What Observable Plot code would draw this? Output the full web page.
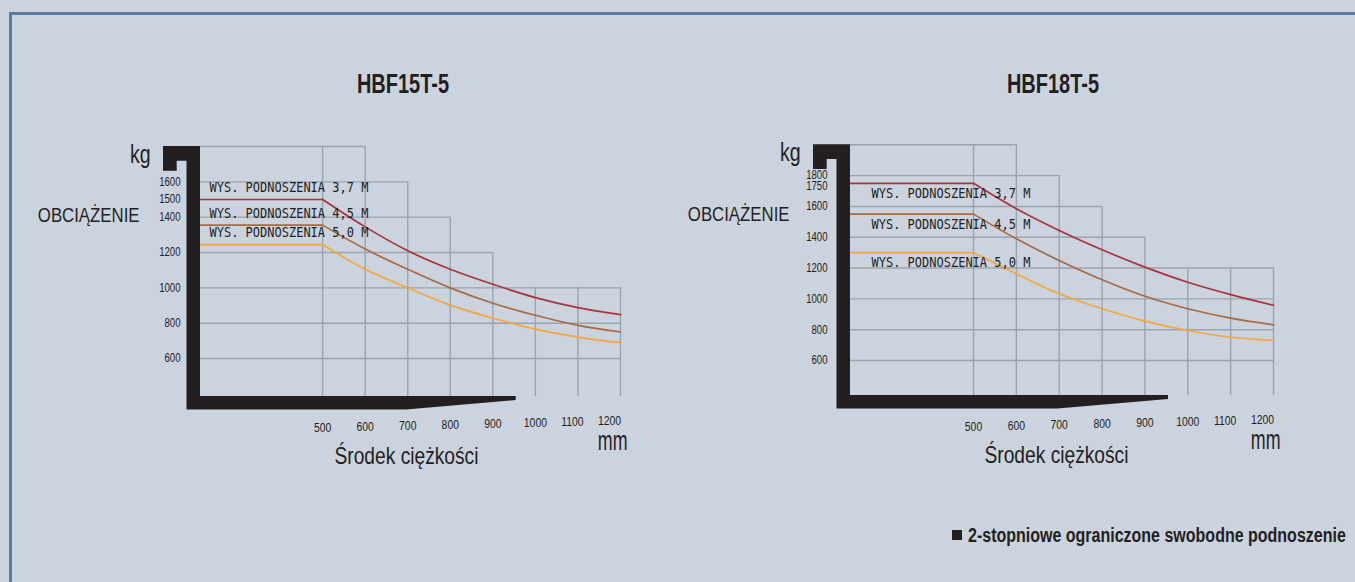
<!DOCTYPE html>
<html>
<head>
<meta charset="utf-8">
<script src="https://cdn.jsdelivr.net/npm/d3@7"></script>
<script src="https://cdn.jsdelivr.net/npm/@observablehq/plot@0.6"></script>
<style>
html, body { margin: 0; padding: 0; }
body {
  width: 1355px; height: 582px; position: relative; overflow: hidden;
  background: #cbd3de; color: #231f20;
  font-family: 'Liberation Sans', Arial, sans-serif;
}
#border { position: absolute; left: 9px; top: 12px; width: 1400px; height: 620px;
  border-top: 3px solid #5b7b9b; border-left: 3px solid #5b7b9b; }
.title { position: absolute; top: 68px; width: 300px; text-align: center;
  font-weight: bold; font-size: 27px; line-height: 32px; transform: scaleX(0.74); transform-origin: 50% 50%; }
.chart { position: absolute; top: 100px; }
#sq { position: absolute; left: 952px; top: 530px; width: 10px; height: 10px; background: #231f20; }
#note { position: absolute; left: 968px; top: 523px; font-weight: bold; font-size: 20px;
  line-height: 24px; white-space: nowrap; transform: scaleX(0.8); transform-origin: 0 50%; }
</style>
</head>
<body>
<div id="border"></div>
<div class="title" id="t1"></div>
<div class="title" id="t2"></div>
<div class="chart" id="c1" style="left:0px"></div>
<div class="chart" id="c2" style="left:650px"></div>
<div id="sq"></div>
<div id="note"></div>
<script>
// ---------- data ----------
const titles = ["HBF15T-5", "HBF18T-5"];
const note = "2-stopniowe ograniczone swobodne podnoszenie";
const yLabel = "OBCIĄŻENIE";
const yUnit = "kg";
const xLabel = "Środek ciężkości";
const xUnit = "mm";
const series = ["WYS. PODNOSZENIA 3,7 M", "WYS. PODNOSZENIA 4,5 M", "WYS. PODNOSZENIA 5,0 M"];
const colors = ["#a8343c", "#a86a40", "#f6a73a"];
const distances = [500, 600, 700, 800, 900, 1000, 1100, 1200];
const xTicks = [500, 600, 700, 800, 900, 1000, 1100, 1200];

// HBF15T-5
const hbf15_h37 = [1500, 1345, 1210, 1105, 1020, 945, 888, 848];
const hbf15_h45 = [1355, 1220, 1105, 1000, 913, 845, 788, 750];
const hbf15_h50 = [1245, 1105, 1000, 902, 828, 766, 721, 690];
const hbf15_yTicks = [1600, 1500, 1400, 1200, 1000, 800, 600];
const hbf15_gridRows = [1800, 1600, 1400, 1200, 1000, 800, 600];
const hbf15_gridRowEnds = [600, 700, 800, 900, 1200, 1200, 1200];
const hbf15_gridCols = [500, 600, 700, 800, 900, 1000, 1100, 1200];
const hbf15_gridColTops = [1800, 1800, 1600, 1400, 1200, 1000, 1000, 1000];

// HBF18T-5
const hbf18_h37 = [1750, 1585, 1444, 1319, 1206, 1108, 1028, 959];
const hbf18_h45 = [1550, 1390, 1249, 1124, 1017, 936, 875, 832];
const hbf18_h50 = [1300, 1163, 1033, 936, 856, 795, 751, 730];
const hbf18_yTicks = [1800, 1750, 1600, 1400, 1200, 1000, 800, 600];
const hbf18_gridRows = [2000, 1800, 1600, 1400, 1200, 1000, 800, 600];
const hbf18_gridRowEnds = [600, 700, 800, 900, 1200, 1200, 1200, 1200];
const hbf18_gridCols = [500, 600, 700, 800, 900, 1000, 1100, 1200];
const hbf18_gridColTops = [2000, 2000, 1800, 1600, 1400, 1200, 1200, 1200];

// ---------- drawing ----------
const sans = "'Liberation Sans', Arial, sans-serif";
const mono = "'DejaVu Sans Mono', 'Liberation Mono', monospace";
const ink = "#231f20";
const gridColor = "#9ba4ad";
const xMin = 213;          // inner edge of the black axis bar
const barEnd = 955;        // where the bottom black bar stops
const taperStart = 697;    // where its lower edge starts to rise

function axisFrame(index, scales, values, dims) {
  const {x} = scales;
  const L = dims.marginLeft, T = dims.marginTop, B = dims.height - dims.marginBottom;
  const t = 13.5;
  const xe = x(barEnd), xt = x(taperStart);
  const d = `M${L - 37},${T} H${L} V${B} H${xe} V${B + 4} L${xt},${B + t} H${L - t}` +
            ` V${T + 14.7} H${L - 23.3} V${T + 24.7} H${L - 37} Z`;
  return d3.create("svg:path").attr("d", d).attr("fill", ink).node();
}

function chart(cfg) {
  const curves = series.flatMap((s, i) => distances.map((d, j) => ({series: s, x: d, y: cfg.loads[i][j]})));
  const flats = series.flatMap((s, i) => [
    {series: s, x: xMin, y: cfg.loads[i][0]},
    {series: s, x: distances[0], y: cfg.loads[i][0]}
  ]);
  const labels = series.map((s, i) => ({series: s, y: cfg.loads[i][0]}));
  const rows = cfg.rows.map((y, i) => ({y, end: cfg.rowEnds[i]}));
  const cols = cfg.cols.map((x, i) => ({x, top: cfg.colTops[i]}));
  return Plot.plot({
    width: cfg.width, height: 380,
    marginLeft: 200, marginRight: cfg.marginRight, marginTop: cfg.marginTop, marginBottom: cfg.marginBottom,
    x: {domain: [xMin, 1200]},
    y: {domain: cfg.yDomain},
    color: {domain: series, range: colors},
    style: {background: "transparent", fontFamily: sans, fontSize: "12px", color: ink, overflow: "visible"},
    marks: [
      Plot.ruleY(rows, {y: "y", x1: xMin, x2: "end", stroke: gridColor, strokeWidth: 1.4}),
      Plot.ruleX(cols, {x: "x", y1: cfg.yDomain[0], y2: "top", stroke: gridColor, strokeWidth: 1.4}),
      Plot.line(flats, {x: "x", y: "y", z: "series", stroke: "series", strokeWidth: 1.7}),
      Plot.line(curves, {x: "x", y: "y", z: "series", stroke: "series", strokeWidth: 1.7, curve: "catmull-rom"}),
      Plot.text(labels, {x: xMin, y: "y", text: "series", textAnchor: "start", dx: cfg.labelDx, dy: cfg.labelDy,
        fontFamily: mono, fontSize: 14, fill: ink}),
      axisFrame,
      Plot.axisY({ticks: cfg.yTicks, tickFormat: "d", tickSize: 0, tickPadding: cfg.yPad, label: null, fontSize: 12}),
      Plot.axisX({ticks: xTicks, tickFormat: "d", tickSize: 0, tickPadding: 26, label: null, fontSize: 13}),
      Plot.text([yUnit], {frameAnchor: "top-left", dx: -50, dy: 16, textAnchor: "end", lineAnchor: "bottom", fontSize: 25, fill: ink}),
      Plot.text([yLabel], {frameAnchor: "top-left", dx: -61, dy: 69, textAnchor: "end", lineAnchor: "middle", fontSize: 21, fill: ink}),
      Plot.text([xLabel], {frameAnchor: "bottom-left", dx: 206, dy: 67, textAnchor: "middle", lineAnchor: "bottom", fontSize: 24, fill: ink}),
      Plot.text([xUnit], {frameAnchor: "bottom-right", dx: 7, dy: 53, textAnchor: "end", lineAnchor: "bottom", fontSize: 27, fill: ink})
    ]
  });
}

// horizontal condensing (the original uses a condensed typeface)
function condenseFactor(s, w) {
  if (s.startsWith("WYS.")) return 159 / w;
  if (s === xUnit) return 0.66;
  if (s === yUnit) return 0.78;
  return 0.8;
}

function addTransform(el, t) {
  el.setAttribute("transform", ((el.getAttribute("transform") || "") + " " + t).trim());
}

function finish(plot, host) {
  document.getElementById(host).append(plot);
  // x tick labels sit on a slightly slanted, perspective-like baseline
  d3.select(plot).selectAll('g[aria-label="x-axis tick label"] text').each(function () {
    const v = +this.textContent;
    const dy = -(v - 500) * 0.0096;
    const dx = -Math.max(0, v - 1000) * 0.055;
    addTransform(this, `translate(${dx},${dy})`);
  });
  // the 1750 label is nudged below its neighbour in the original
  d3.select(plot).selectAll('g[aria-label="y-axis tick label"] text').each(function () {
    if (this.textContent === "1750") addTransform(this, "translate(0,3)");
  });
  // condense every text horizontally about its own anchor
  d3.select(plot).selectAll("text").each(function () {
    const s = this.textContent;
    const w = this.getComputedTextLength();
    const k = condenseFactor(s, w);
    const ax = parseFloat(this.getAttribute("x") || 0) || 0;
    addTransform(this, `translate(${ax},0) scale(${k},1) translate(${-ax},0)`);
  });
}

const p1 = chart({
  loads: [hbf15_h37, hbf15_h45, hbf15_h50],
  yTicks: hbf15_yTicks, rows: hbf15_gridRows, rowEnds: hbf15_gridRowEnds,
  cols: hbf15_gridCols, colTops: hbf15_gridColTops,
  yDomain: [385, 1800], width: 650, marginRight: 30, marginTop: 46, marginBottom: 84,
  labelDx: 9, labelDy: -12, yPad: 20
});
finish(p1, "c1");

const p2 = chart({
  loads: [hbf18_h37, hbf18_h45, hbf18_h50],
  yTicks: hbf18_yTicks, rows: hbf18_gridRows, rowEnds: hbf18_gridRowEnds,
  cols: hbf18_gridCols, colTops: hbf18_gridColTops,
  yDomain: [373, 2000], width: 653, marginRight: 30, marginTop: 44.3, marginBottom: 85,
  labelDx: 21, labelDy: 10, yPad: 23
});
finish(p2, "c2");

const t1 = document.getElementById("t1");
t1.textContent = titles[0]; t1.style.left = (402.5 - 150) + "px";
const t2 = document.getElementById("t2");
t2.textContent = titles[1]; t2.style.left = (1052.5 - 150) + "px";
document.getElementById("note").textContent = note;
</script>
</body>
</html>
